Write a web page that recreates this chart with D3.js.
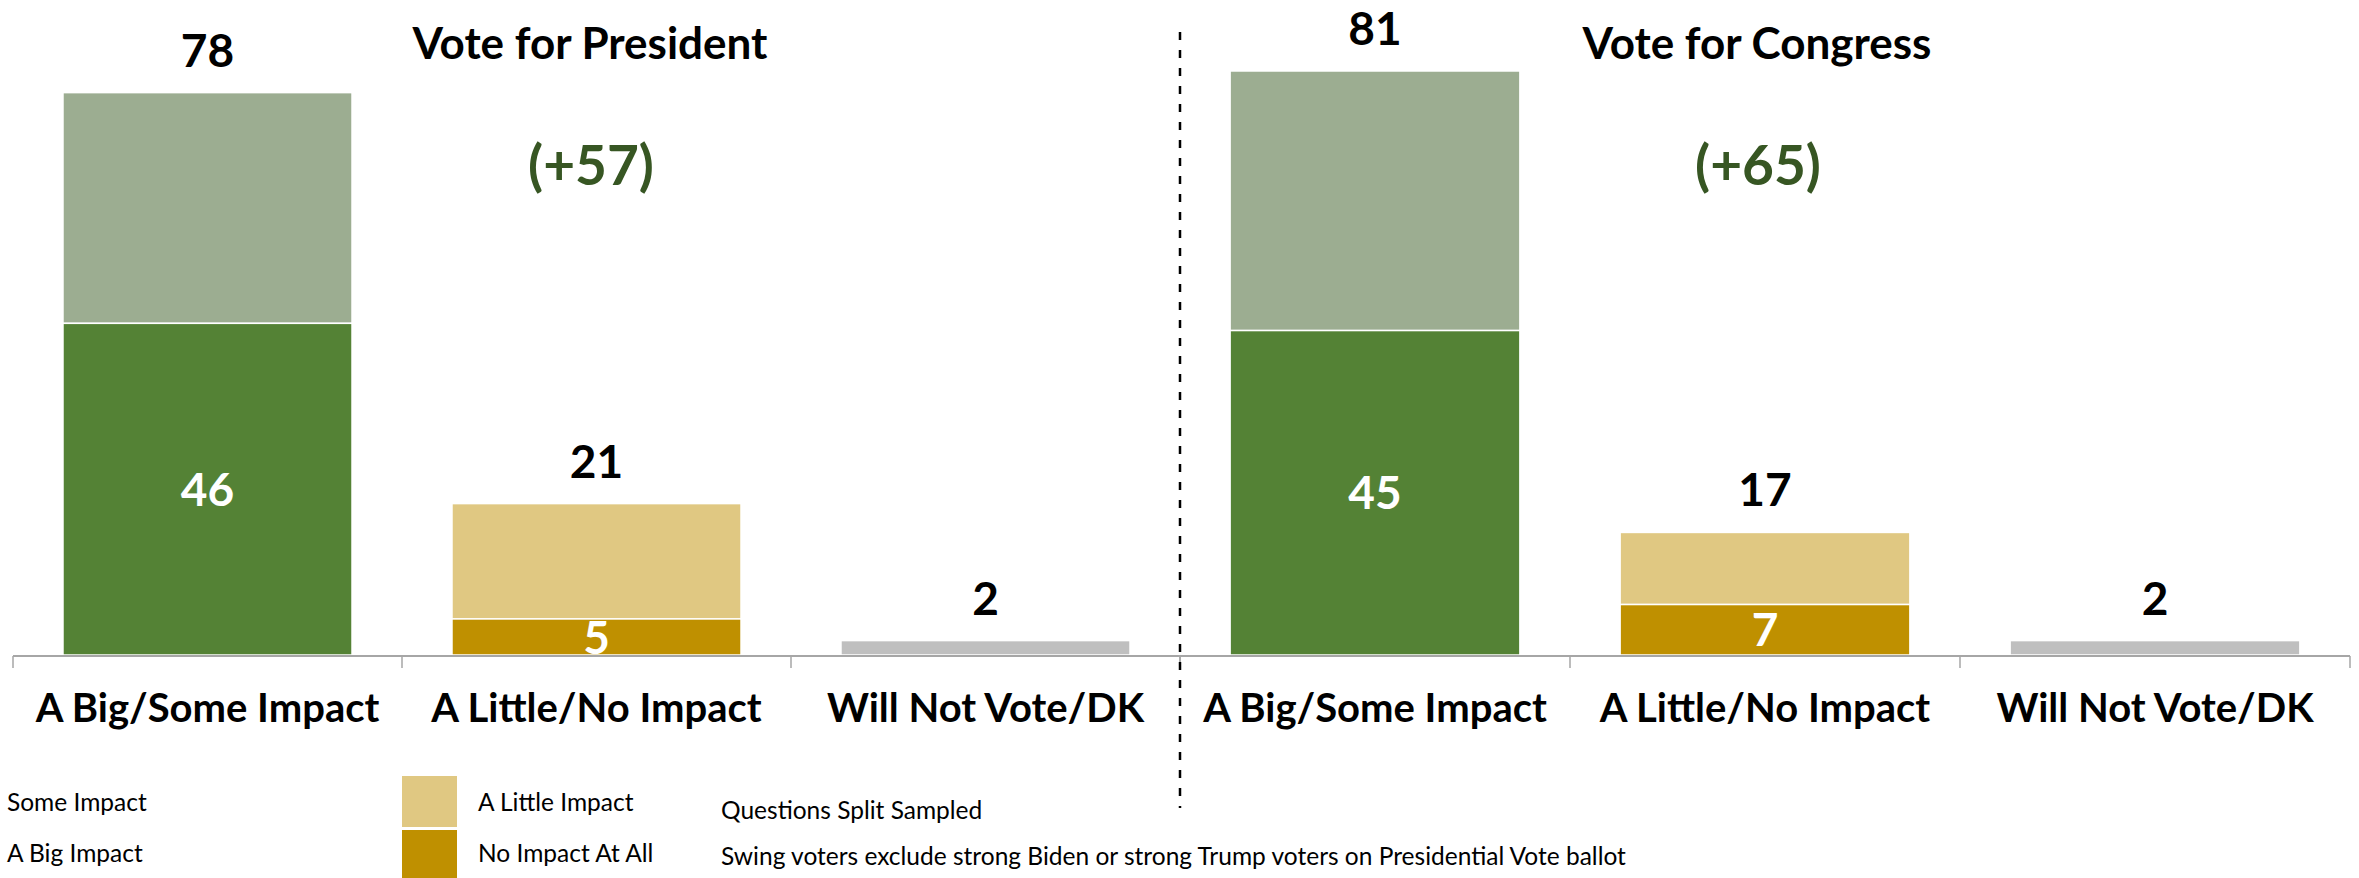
<!DOCTYPE html>
<html><head><meta charset="utf-8">
<script src="https://cdn.jsdelivr.net/npm/d3@7"></script>
<style>
html,body{margin:0;padding:0;background:#fff;}
svg{display:block;}
text{font-family:Lato,"Open Sans",sans-serif;}
</style></head>
<body><svg id="chart" width="2359" height="878"></svg>
<script>
const categories = ["A Big/Some Impact", "A Little/No Impact", "Will Not Vote/DK"];
const panelTitles = ["Vote for President", "Vote for Congress"];
const netLabels = ["(+57)", "(+65)"];
// lower segment (A Big Impact / No Impact At All / Will Not Vote)
const presidentLower = [46, 5, 2];
// upper segment (Some Impact / A Little Impact)
const presidentUpper = [32, 16, 0];
const presidentTotals = [78, 21, 2];
const congressLower = [45, 7, 2];
const congressUpper = [36, 10, 0];
const congressTotals = [81, 17, 2];
const showInner = [true, true, false];
const legendLeft = ["Some Impact", "A Big Impact"];
const legendMid = ["A Little Impact", "No Impact At All"];
const notes = ["Questions Split Sampled", "Swing voters exclude strong Biden or strong Trump voters on Presidential Vote ballot"];

const lowerColors = ["#548235", "#bf9000", "#bfbfbf"];
const upperColors = ["#9cad91", "#e0c882", "#bfbfbf"];
const midLegendColors = ["#e0c882", "#bf9000"];

const panels = [
  {title: panelTitles[0], net: netLabels[0], lower: presidentLower, upper: presidentUpper, totals: presidentTotals},
  {title: panelTitles[1], net: netLabels[1], lower: congressLower, upper: congressUpper, totals: congressTotals}
];

const svg = d3.select("#chart");
const baseY = 655;
const y = d3.scaleLinear().domain([0, 90]).range([baseY, baseY - 90 * 7.21]);
const panelRanges = [[13, 1180], [1180, 2350]];

panels.forEach((p, pi) => {
  const x = d3.scaleBand().domain(categories).range(panelRanges[pi])
    .paddingInner(0.257).paddingOuter(0.1285);
  const g = svg.append("g");
  const step = x.step();
  const bw = x.bandwidth();

  // upper segments
  g.selectAll("rect.up").data(categories).join("rect")
    .attr("x", d => x(d))
    .attr("width", bw)
    .attr("y", (d, i) => y(p.lower[i] + p.upper[i]))
    .attr("height", (d, i) => y(p.lower[i]) - y(p.lower[i] + p.upper[i]))
    .attr("fill", (d, i) => upperColors[i])
    .attr("stroke", "#fff").attr("stroke-width", 1.5);
  // lower segments
  g.selectAll("rect.low").data(categories).join("rect")
    .attr("x", d => x(d))
    .attr("width", bw)
    .attr("y", (d, i) => y(p.lower[i]))
    .attr("height", (d, i) => y(0) - y(p.lower[i]))
    .attr("fill", (d, i) => lowerColors[i])
    .attr("stroke", "#fff").attr("stroke-width", 1.5);

  // axis line + boundary ticks
  const bounds = categories.map(c => x(c) - step * x.paddingInner() / 2).concat([panelRanges[pi][1]]);
  g.append("line").attr("x1", panelRanges[pi][0]).attr("x2", panelRanges[pi][1])
    .attr("y1", baseY + 1).attr("y2", baseY + 1)
    .attr("stroke", "#a6a6a6").attr("stroke-width", 2);
  g.selectAll("line.tick").data(bounds).join("line")
    .attr("x1", d => d).attr("x2", d => d)
    .attr("y1", baseY + 1).attr("y2", baseY + 13)
    .attr("stroke", "#a6a6a6").attr("stroke-width", 1.5);

  // category labels
  g.selectAll("text.cat").data(categories).join("text")
    .attr("x", d => x(d) + bw / 2).attr("y", 722)
    .attr("text-anchor", "middle")
    .attr("font-size", 40).attr("font-weight", 700).attr("fill", "#000")
    .text(d => d);

  // total labels
  g.selectAll("text.tot").data(categories).join("text")
    .attr("x", d => x(d) + bw / 2)
    .attr("y", (d, i) => y(p.totals[i]) - 26)
    .attr("text-anchor", "middle")
    .attr("font-size", 46).attr("font-weight", 700).attr("fill", "#000")
    .text((d, i) => p.totals[i]);

  // inner labels
  g.selectAll("text.inn").data(categories.filter((d, i) => showInner[i])).join("text")
    .attr("x", d => x(d) + bw / 2)
    .attr("y", d => { const i = categories.indexOf(d); return (y(0) + y(p.lower[i])) / 2; })
    .attr("dy", "0.36em")
    .attr("text-anchor", "middle")
    .attr("font-size", 46).attr("font-weight", 700).attr("fill", "#fff")
    .text(d => p.lower[categories.indexOf(d)]);

  // title and net
  const cx = panelRanges[pi][0] + 577;
  g.append("text").attr("x", cx).attr("y", 59).attr("text-anchor", "middle")
    .attr("font-size", 44).attr("font-weight", 700).attr("fill", "#000").text(p.title);
  g.append("text").attr("x", panelRanges[pi][0] + 578).attr("y", 185).attr("text-anchor", "middle")
    .attr("font-size", 55).attr("font-weight", 700).attr("fill", "#375623").text(p.net);
});

// dashed divider
svg.append("line").attr("x1", 1180).attr("x2", 1180).attr("y1", 32).attr("y2", 808)
  .attr("stroke", "#000").attr("stroke-width", 2.5).attr("stroke-dasharray", "8,10");

// legend
svg.selectAll("text.legL").data(legendLeft).join("text")
  .attr("x", 7).attr("y", (d, i) => 811 + i * 51)
  .attr("font-size", 24.5).attr("fill", "#000").text(d => d);
svg.selectAll("rect.legM").data(legendMid).join("rect")
  .attr("x", 402).attr("width", 55)
  .attr("y", (d, i) => 776 + i * 54).attr("height", 51)
  .attr("fill", (d, i) => midLegendColors[i]);
svg.selectAll("text.legM").data(legendMid).join("text")
  .attr("x", 478).attr("y", (d, i) => 811 + i * 51)
  .attr("font-size", 24.5).attr("fill", "#000").text(d => d);
svg.selectAll("text.note").data(notes).join("text")
  .attr("x", 721).attr("y", (d, i) => 819 + i * 46)
  .attr("font-size", 24.5).attr("fill", "#000").text(d => d);
</script></body></html>
